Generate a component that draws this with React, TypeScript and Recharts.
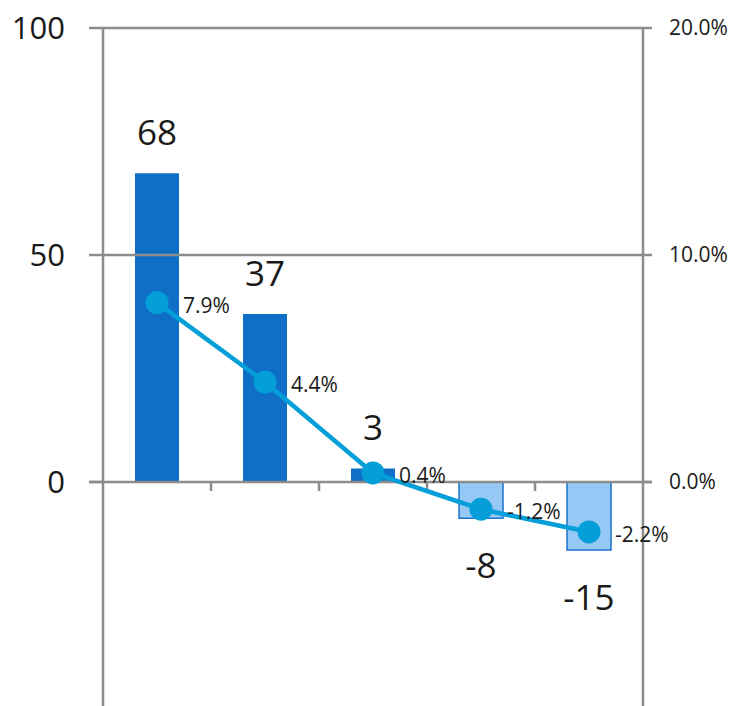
import { ComposedChart, Bar, Line, XAxis, YAxis, ReferenceLine, LabelList, Cell } from 'recharts'

const categories = ['1', '2', '3', '4', '5']
const values = [68, 37, 3, -8, -15]
const rates = [7.9, 4.4, 0.4, -1.2, -2.2]
const leftTicks = [0, 50, 100]
const rightTicks = [0, 10, 20]

const data = categories.map((c, i) => ({ name: c, value: values[i], rate: rates[i] }))

const GRAY = '#8c8c8c'
const FONT = '"Open Sans", "Noto Sans", sans-serif'

const ValueLabel = (props: any) => {
  const { x, y, width, height, value } = props
  const cx = x + width / 2
  const top = Math.min(y, y + height)
  const bottom = Math.max(y, y + height)
  return (
    <text
      x={cx}
      y={value >= 0 ? top - 28 : bottom + 60}
      textAnchor="middle"
      fontSize={35}
      fill="#1a1a1a"
      fontFamily={FONT}
    >
      {value}
    </text>
  )
}

const RateLabel = (props: any) => {
  const { x, y, value } = props
  return (
    <text x={x + 26} y={y + 10} fontSize={21} fill="#1a1a1a" fontFamily={FONT}>
      {value.toFixed(1)}%
    </text>
  )
}

const ZeroLine = (props: any) => {
  const { x1, y1, x2 } = props
  const n = categories.length
  const step = (x2 - x1) / n
  return (
    <g>
      <line x1={x1 - 14} y1={y1} x2={x2 + 9} y2={y1} stroke={GRAY} strokeWidth={2.5} />
      {categories.slice(1).map((_, i) => (
        <line key={i} x1={x1 + step * (i + 1)} y1={y1} x2={x1 + step * (i + 1)} y2={y1 + 9} stroke={GRAY} strokeWidth={2.5} />
      ))}
    </g>
  )
}

export default function App() {
  return (
    <div style={{ position: 'absolute', left: 0, top: 0, width: 743, height: 706, overflow: 'hidden', background: '#fff' }}>
      <ComposedChart width={743} height={720} data={data} margin={{ top: 28, right: 0, bottom: 11, left: 0 }}>
        <XAxis dataKey="name" hide />
        <YAxis
          yAxisId="left"
          domain={[-50, 100]}
          ticks={leftTicks}
          width={103}
          axisLine={{ stroke: GRAY, strokeWidth: 2.5 }}
          tickLine={{ stroke: GRAY, strokeWidth: 2.5 }}
          tickSize={14}
          tickMargin={24}
          tick={{ fill: '#1a1a1a', fontSize: 31, fontFamily: FONT }}
        />
        <YAxis
          yAxisId="right"
          orientation="right"
          domain={[-10, 20]}
          ticks={rightTicks}
          width={100}
          axisLine={{ stroke: GRAY, strokeWidth: 2.5 }}
          tickLine={{ stroke: GRAY, strokeWidth: 2.5 }}
          tickSize={9}
          tickMargin={17}
          tickFormatter={(v: number) => v.toFixed(1) + '%'}
          tick={{ fill: '#1a1a1a', fontSize: 21, fontFamily: FONT, textAnchor: 'start' }}
        />
        <Bar yAxisId="left" dataKey="value" barSize={44} isAnimationActive={false}>
          {data.map((d, i) => (
            <Cell key={i} fill={d.value >= 0 ? '#0f6fc6' : '#96c8f6'} stroke={d.value >= 0 ? 'none' : '#1a73cc'} strokeWidth={1.5} />
          ))}
          <LabelList dataKey="value" content={ValueLabel} />
        </Bar>
        <ReferenceLine yAxisId="left" y={100} stroke={GRAY} strokeWidth={2.5} />
        <ReferenceLine yAxisId="left" y={50} stroke={GRAY} strokeWidth={2.5} />
        <ReferenceLine yAxisId="left" y={0} shape={ZeroLine} />
        <Line
          yAxisId="right"
          dataKey="rate"
          stroke="#049fd9"
          strokeWidth={4.5}
          dot={{ r: 11.5, fill: '#049fd9', stroke: '#049fd9', strokeWidth: 0 }}
          activeDot={false}
          isAnimationActive={false}
        >
          <LabelList dataKey="rate" content={RateLabel} />
        </Line>
      </ComposedChart>
    </div>
  )
}
